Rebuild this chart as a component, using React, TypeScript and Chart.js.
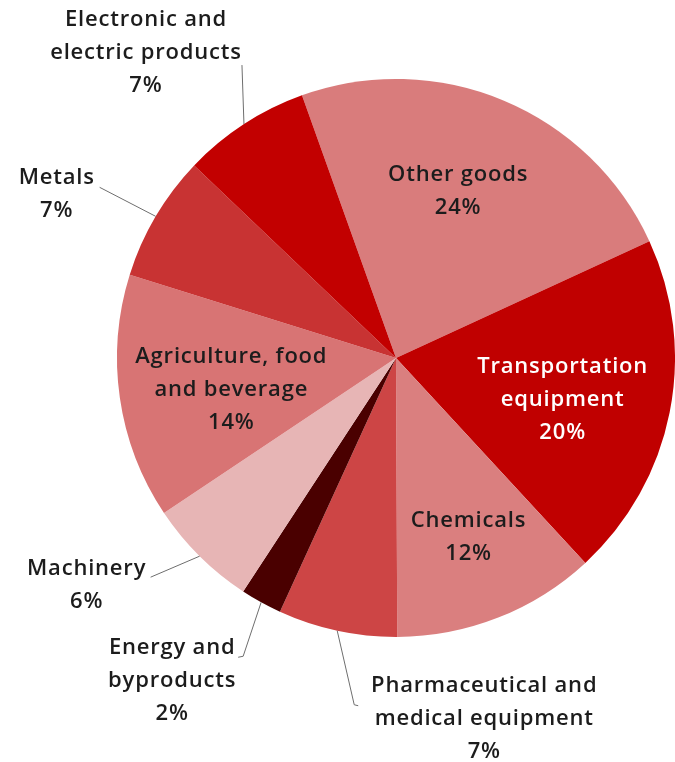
import React, { useEffect, useRef } from 'react';
import { Chart, registerables } from 'chart.js';

Chart.register(...registerables);

// ---- data ----
const categories = [
  'Other goods',
  'Transportation equipment',
  'Chemicals',
  'Pharmaceutical and medical equipment',
  'Energy and byproducts',
  'Machinery',
  'Agriculture, food and beverage',
  'Metals',
  'Electronic and electric products',
];
// slice shares as drawn (labels show the rounded percentages)
const shares = [23.6, 20.0, 11.8, 6.9, 2.4, 6.4, 14.2, 7.3, 7.4];
const percentLabels = ['24%', '20%', '12%', '7%', '2%', '6%', '14%', '7%', '7%'];
const labelLines = [
  ['Other goods'],
  ['Transportation', 'equipment'],
  ['Chemicals'],
  ['Pharmaceutical and', 'medical equipment'],
  ['Energy and', 'byproducts'],
  ['Machinery'],
  ['Agriculture, food', 'and beverage'],
  ['Metals'],
  ['Electronic and', 'electric products'],
];

// ---- styles ----
const colors = ['#d97c7c', '#c00000', '#da7f7f', '#cd4545', '#4a0000', '#e7b5b5', '#d87474', '#c83333', '#c20000'];
const FONT = '600 22px "Open Sans", sans-serif';
const LINE_H = 33;
const TEXT_COLOR = '#1c1c1c';

type Placement =
  | { type: 'in'; k: number; dx: number; dy: number; color: string }
  | { type: 'out'; lx: number; ly: number; hook: number; tx: number; ty: number };

const placements: Placement[] = [
  { type: 'in', k: 0.64, dx: -7, dy: -2, color: TEXT_COLOR },
  { type: 'in', k: 0.62, dx: -3, dy: 8, color: '#ffffff' },
  { type: 'in', k: 0.69, dx: 2, dy: 0, color: TEXT_COLOR },
  { type: 'out', lx: 17, ly: 74, hook: 4, tx: 130, ty: -19 },
  { type: 'out', lx: -18, ly: 54, hook: -5, tx: -71, ty: -9 },
  { type: 'out', lx: -49, ly: 21, hook: 0, tx: -64, ty: -8 },
  { type: 'in', k: 0.6, dx: 1, dy: 8, color: TEXT_COLOR },
  { type: 'out', lx: -56, ly: -29, hook: 0, tx: -43, ty: -10 },
  { type: 'out', lx: -2, ly: -59, hook: 0, tx: -96, ty: -45 },
];

const labelPlugin = {
  id: 'sliceLabels',
  afterDatasetsDraw(chart: any) {
    const ctx: CanvasRenderingContext2D = chart.ctx;
    const meta = chart.getDatasetMeta(0);
    ctx.save();
    ctx.font = FONT;
    try { (ctx as any).letterSpacing = '0.8px'; } catch (e) {}
    ctx.textAlign = 'center';
    ctx.textBaseline = 'middle';
    meta.data.forEach((arc: any, i: number) => {
      const { x, y, startAngle, endAngle, outerRadius } = arc.getProps(
        ['x', 'y', 'startAngle', 'endAngle', 'outerRadius'],
        true
      );
      const a = (startAngle + endAngle) / 2;
      const lines = [...labelLines[i], percentLabels[i]];
      const p = placements[i];
      let cx: number, top: number;
      if (p.type === 'in') {
        cx = x + Math.cos(a) * outerRadius * p.k + p.dx;
        const cy = y + Math.sin(a) * outerRadius * p.k + p.dy;
        top = cy - ((lines.length - 1) * LINE_H) / 2;
        ctx.fillStyle = p.color;
      } else {
        const ex = x + Math.cos(a) * outerRadius;
        const ey = y + Math.sin(a) * outerRadius;
        const lx = ex + p.lx;
        const ly = ey + p.ly;
        ctx.strokeStyle = '#6e6e6e';
        ctx.lineWidth = 1;
        ctx.beginPath();
        ctx.moveTo(ex, ey);
        ctx.lineTo(lx, ly);
        if (p.hook) ctx.lineTo(lx + p.hook, ly + 1);
        ctx.stroke();
        cx = lx + p.tx;
        top = ly + p.ty;
        ctx.fillStyle = TEXT_COLOR;
      }
      lines.forEach((t, j) => ctx.fillText(t, cx, top + j * LINE_H));
    });
    ctx.restore();
  },
};

export default function App() {
  const ref = useRef<HTMLCanvasElement>(null);
  useEffect(() => {
    if (!ref.current) return;
    const chart = new Chart(ref.current, {
      type: 'pie',
      data: {
        labels: categories,
        datasets: [
          {
            data: shares,
            backgroundColor: colors,
            borderWidth: 0,
            hoverOffset: 0,
            offset: 0,
          },
        ],
      },
      options: {
        animation: false,
        responsive: false,
        events: [],
        rotation: -19.7,
        layout: { padding: { left: 117, right: 0, top: 79, bottom: 125 } },
        plugins: { legend: { display: false }, tooltip: { enabled: false } },
      },
      plugins: [labelPlugin],
    });
    return () => chart.destroy();
  }, []);
  return (
    <div style={{ position: 'absolute', left: 0, top: 0, width: 675, height: 762, background: '#fff' }}>
      <canvas ref={ref} width={675} height={762} style={{ display: 'block' }} />
    </div>
  );
}
